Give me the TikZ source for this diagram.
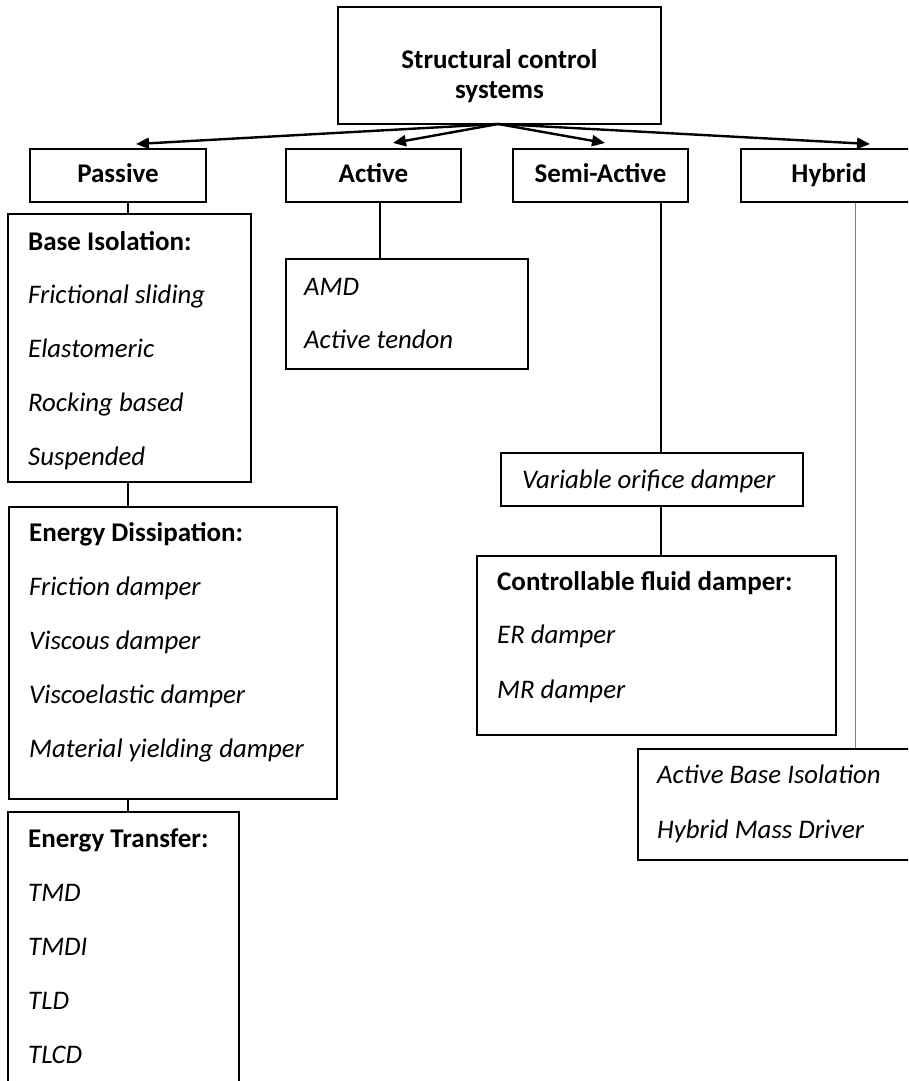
\documentclass[tikz,border=0pt]{standalone}
\usepackage{fontspec}
\setmainfont{Carlito}
\usetikzlibrary{arrows.meta,calc}
\begin{document}
\begin{tikzpicture}[x=1pt,y=-1pt,
  box/.style={draw, line width=1.5pt, inner sep=0pt},
  head/.style={font=\fontsize{27}{31}\selectfont\bfseries, inner sep=0pt, anchor=base},
  ttl/.style={font=\fontsize{27}{31}\selectfont\bfseries, inner sep=0pt, anchor=base west},
  item/.style={font=\fontsize{26.8}{31}\selectfont\itshape, inner sep=0pt, anchor=base west},
  conn/.style={line width=1.5pt},
  thin/.style={line width=1pt, draw=gray},
  arr/.style={line width=2.4pt, -{Triangle[length=13pt,width=11pt]}}]
\useasboundingbox (0,0) rectangle (908,1081);
\clip (0,0) rectangle (908,1081);

% top
\node[box, minimum width=323pt, minimum height=117pt] (top) at (499.5,65.5) {};
\node[head] (t1) at (499.5,68) {Structural control};
\node[head] (t2) at (499.5,99) {systems};

% level 1
\node[box, minimum width=176pt, minimum height=53pt] (passive) at (118,175.5) {};
\node[head] (passivet) at (118,182) {Passive};
\node[box, minimum width=175pt, minimum height=53pt] (active) at (373.5,175.5) {};
\node[head] (activet) at (373.5,182) {Active};
\node[box, minimum width=175pt, minimum height=53pt] (semi) at (600.5,175.5) {};
\node[head] (semit) at (600.5,182) {Semi-Active};
\node[box, minimum width=176pt, minimum height=53pt] (hybrid) at (829,175.5) {};
\node[head] (hybridt) at (829,182) {Hybrid};

% arrows
\coordinate (src) at (498,124);
\coordinate (tp) at (136,144);
\coordinate (ta) at (393,143);
\coordinate (ts) at (605,143);
\coordinate (th) at (870,144);
\draw[arr] (src) -- (tp);
\draw[arr] (src) -- (ta);
\draw[arr] (src) -- (ts);
\draw[arr] (src) -- (th);

% passive branch
\node[box, minimum width=243pt, minimum height=268pt] (bi) at (129.5,348) {};
\node[ttl] (bi0) at (28,250) {Base Isolation:};
\foreach \t [count=\i] in {Frictional sliding, Elastomeric, Rocking based, Suspended}
  \node[item] (bi\i) at (28,{250+\i*53.8}) {\t};

\node[box, minimum width=328pt, minimum height=292pt] (ed) at (173,653) {};
\node[ttl] (ed0) at (29,541) {Energy Dissipation:};
\foreach \t [count=\i] in {Friction damper, Viscous damper, Viscoelastic damper, Material yielding damper}
  \node[item] (ed\i) at (29,{541+\i*54.2}) {\t};

\node[box, minimum width=231pt, minimum height=290pt] (et) at (123.5,957) {};
\node[ttl] (et0) at (28,847) {Energy Transfer:};
\foreach \t [count=\i] in {TMD, TMDI, TLD, TLCD}
  \node[item] (et\i) at (28,{847+\i*54}) {\t};

\coordinate (px) at (128,0);
\draw[conn] (passive.south -| px) -- (bi.north -| px);
\draw[conn] (bi.south -| px) -- (ed.north -| px);
\draw[conn] (ed.south -| px) -- (et.north -| px);

% active branch
\node[box, minimum width=242pt, minimum height=110pt] (amd) at (407,314) {};
\node[item] (amd1) at (304,295) {AMD};
\node[item] (amd2) at (304,348) {Active tendon};
\coordinate (ax) at (380,0);
\draw[conn] (active.south -| ax) -- (amd.north -| ax);

% semi-active branch
\node[box, minimum width=302pt, minimum height=53pt] (vod) at (652,479.5) {};
\node[item] (vodt) at (522,488) {Variable orifice damper};
\node[box, minimum width=359pt, minimum height=179pt] (cfd) at (656.5,645.5) {};
\node[ttl] (cfd0) at (497,590) {Controllable fluid damper:};
\node[item] (cfd1) at (497,643.5) {ER damper};
\node[item] (cfd2) at (497,698) {MR damper};
\coordinate (sx) at (661,0);
\draw[conn] (semi.south -| sx) -- (vod.north -| sx);
\draw[conn] (vod.south -| sx) -- (cfd.north -| sx);

% hybrid branch
\node[box, minimum width=282pt, minimum height=111pt] (hs) at (779,804.5) {};
\node[item] (hs1) at (657,783) {Active Base Isolation};
\node[item] (hs2) at (657,838) {Hybrid Mass Driver};
\coordinate (hx) at (855,0);
\draw[thin] (hybrid.south -| hx) -- (hs.north -| hx);
\end{tikzpicture}
\end{document}
